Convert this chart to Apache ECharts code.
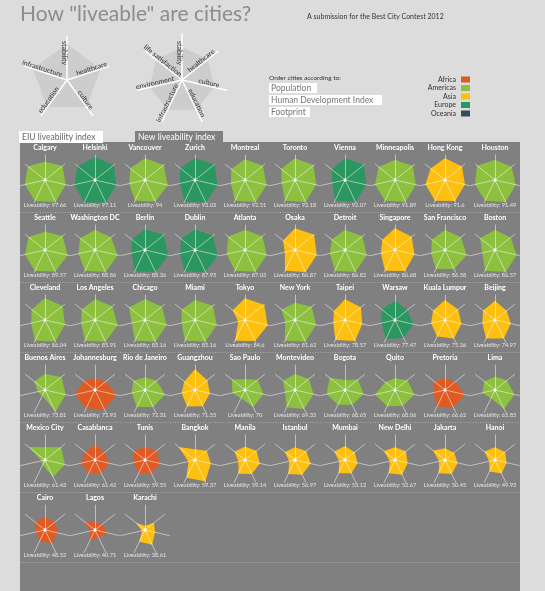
<!DOCTYPE html>
<html><head><meta charset="utf-8">
<script src="https://cdn.jsdelivr.net/npm/echarts@6/dist/echarts.min.js"></script>
<style>html,body{margin:0;padding:0;background:#dcdcdc}#c{width:545px;height:591px}</style>
</head><body><div id="c"></div>
<script>
// ---------- data ----------
const cities = ['Calgary','Helsinki','Vancouver','Zurich','Montreal','Toronto','Vienna','Minneapolis','Hong Kong','Houston',
  'Seattle','Washington DC','Berlin','Dublin','Atlanta','Osaka','Detroit','Singapore','San Francisco','Boston',
  'Cleveland','Los Angeles','Chicago','Miami','Tokyo','New York','Taipei','Warsaw','Kuala Lumpur','Beijing',
  'Buenos Aires','Johannesburg','Rio de Janeiro','Guangzhou','Sao Paulo','Montevideo','Bogota','Quito','Pretoria','Lima',
  'Mexico City','Casablanca','Tunis','Bangkok','Manila','Istanbul','Mumbai','New Delhi','Jakarta','Hanoi',
  'Cairo','Lagos','Karachi'];
const regions = ['Americas','Europe','Americas','Europe','Americas','Americas','Europe','Americas','Asia','Americas',
  'Americas','Americas','Europe','Europe','Americas','Asia','Americas','Asia','Americas','Americas',
  'Americas','Americas','Americas','Americas','Asia','Americas','Asia','Europe','Asia','Asia',
  'Americas','Africa','Americas','Asia','Americas','Americas','Americas','Americas','Africa','Americas',
  'Americas','Africa','Africa','Asia','Asia','Asia','Asia','Asia','Asia','Asia',
  'Africa','Africa','Asia'];
const scores = [97.66,97.11,94,93.03,92.51,92.18,92.07,91.89,91.6,91.49,
  89.57,88.86,88.36,87.95,87.03,86.87,86.82,86.68,86.58,86.57,
  86.04,85.91,85.16,85.16,84.6,81.62,78.57,77.47,75.36,74.97,
  73.81,72.93,72.31,71.55,70,69.35,68.65,68.06,66.62,65.85,
  61.43,61.42,59.55,59.37,59.14,56.97,53.12,52.67,50.45,49.93,
  48.52,40.71,38.61];
// axis values (0-100), one entry per city, same order as cities
const stability = [73,91,87,87,83,87,87,80,87,80, 73,80,83,83,80,87,80,87,80,80, 87,83,83,80,87,69,83,77,80,77,
  64,47,51,83,43,64,40,47,47,53, 51,60,51,43,53,51,56,51,47,51, 51,31,17];
const healthcare = [90,96,96,100,91,95,97,91,87,85, 90,82,96,91,89,98,89,85,81,80, 90,88,86,91,98,85,81,63,67,60,
  84,55,60,63,65,71,67,63,52,61, 82,50,60,60,59,57,50,56,47,52, 52,36,46];
const culture = [85,87,93,92,89,87,87,85,82,85, 93,93,96,93,89,89,89,80,89,89, 82,93,89,89,93,87,71,75,68,65,
  85,89,82,61,76,76,76,80,82,80, 82,57,61,65,61,65,52,52,52,48, 52,52,41];
const education = [98,100,96,100,98,98,98,98,93,98, 95,98,98,98,97,98,98,93,84,98, 95,97,96,95,93,95,93,79,82,82,
  97,85,75,72,75,84,65,71,77,84, 75,59,60,96,62,66,59,66,62,60, 59,33,66];
const infrastructure = [93,100,92,95,92,92,92,92,92,92, 93,92,95,95,92,92,92,92,84,92, 92,92,92,92,92,92,89,84,73,82,
  25,82,75,73,37,77,65,72,73,37, 22,59,59,79,61,62,59,59,59,51, 50,45,52];
const environment = [83,85,65,62,58,55,52,82,80,82, 82,68,55,61,75,42,62,58,57,52, 57,57,55,55,28,41,48,55,57,52,
  30,82,55,55,52,41,75,82,48,52, 15,57,47,27,27,24,24,21,24,24, 35,20,13];
const lifeSatisfaction = [88,89,75,76,70,70,67,84,74,92, 84,76,67,71,86,61,68,65,67,76, 68,68,81,68,63,68,57,68,61,61,
  55,57,60,55,67,60,79,50,55,55, 84,50,57,84,54,52,55,57,61,54, 52,52,47];

const newAxes = ['stability','healthcare','culture','education','infrastructure','environment','life satisfaction'];
const eiuAxes = ['stability','healthcare','culture','education','infrastructure'];
const eiuIcon = [82,80,76,76,82];
const newIcon = [72,72,72,72,72,72,72];
const regionNames = ['Africa','Americas','Asia','Europe','Oceania'];
const regionColors = ['#e05a24','#8dc03f','#fdbf10','#2a9660','#2f4f5e'];
const sortOptions = ['Population','Human Development Index','Footprint'];
const tabs = ['EIU liveability index','New liveability index'];

// ---------- build ----------
const colorOf = {}; regionNames.forEach((r,i)=>colorOf[r]=regionColors[i]);
const axisData = [stability, healthcare, culture, education, infrastructure, environment, lifeSatisfaction];
// ECharts lays indicators counterclockwise; reorder so the axes run clockwise
const ccw = n => Array.from({length:n}, (_,k) => (n - k) % n);
const FONT = 'Lato, "Open Sans", sans-serif';
const COLS = 10, CW = 50, CH = 70, X0 = 20, Y0 = 143, R = 25;

const radars = [], series = [], g = [];
g.push({type:'rect', z:-5, shape:{x:20, y:142, width:500, height:449}, style:{fill:'#808080'}});

cities.forEach((name, i) => {
  const r = Math.floor(i / COLS), c = i % COLS;
  const cx = X0 + CW * (c + 0.5), cy = Y0 + 37 + CH * r;
  radars.push({
    center:[cx, cy], radius:R, startAngle:90, z:3,
    indicator: ccw(7).map(k => ({name:newAxes[k], min:0, max:100})),
    axisName:{show:false}, splitLine:{show:false}, splitArea:{show:false},
    axisTick:{show:false}, axisLabel:{show:false},
    axisLine:{lineStyle:{color:'rgba(255,255,255,0.5)', width:1}}
  });
  const col = colorOf[regions[i]];
  series.push({
    type:'radar', radarIndex:i, name:regions[i], z:2, silent:true, symbol:'none',
    itemStyle:{color:col}, lineStyle:{width:0, opacity:0},
    areaStyle:{color:col, opacity:1},
    data:[{name:name, value: ccw(7).map(k => axisData[k][i])},
          {name:'centre', value:[0,0,0,0,0,0,0], symbol:'circle', symbolSize:2.4,
           itemStyle:{color:'#fff'}, areaStyle:{opacity:0}, lineStyle:{opacity:0}}]
  });
  g.push({type:'text', z:10, x:cx, y:cy - 32, style:{text:name, fill:'#fff', font:'bold 7px ' + FONT,
    align:'center', verticalAlign:'middle', textAlign:'center', textVerticalAlign:'middle'}});
  g.push({type:'text', z:10, x:cx, y:cy + 25, style:{text:'Liveability: ' + scores[i], fill:'#e4e4e4', font:'5.7px ' + FONT,
    align:'center', verticalAlign:'middle', textAlign:'center', textVerticalAlign:'middle'}});
});
const nRows = Math.ceil(cities.length / COLS);
for (let r = 0; r < nRows; r++) {
  const y = Y0 + 69.5 + CH * r;
  g.push({type:'line', z:-4, shape:{x1:20, y1:y, x2:520, y2:y}, style:{stroke:'#a9a9a9', lineWidth:1, lineDash:[1,1.5]}});
}
// Oceania: legend only (no city)
series.push({type:'radar', radarIndex:0, name:'Oceania', itemStyle:{color:colorOf['Oceania']}, data:[]});

// header icon radars
function iconRadar(cx, cy, rad, names, vals) {
  const idx = radars.length;
  radars.push({
    center:[cx, cy], radius:rad, startAngle:90, z:3,
    indicator: ccw(names.length).map(k => ({name:names[k], min:0, max:100})),
    axisName:{show:false}, splitLine:{show:false}, splitArea:{show:false},
    axisTick:{show:false}, axisLabel:{show:false},
    axisLine:{lineStyle:{color:'#ffffff', width:1.5}}
  });
  series.push({type:'radar', radarIndex:idx, z:2, silent:true, symbol:'none',
    lineStyle:{width:0, opacity:0}, itemStyle:{color:'#cdcdcd'}, areaStyle:{color:'#cdcdcd', opacity:1},
    data:[{value: ccw(names.length).map(k => vals[k])}]});
  const n = names.length;
  names.forEach((t, k) => {
    const phi = k * 2 * Math.PI / n;
    const dx = Math.sin(phi), dy = -Math.cos(phi);
    let th = Math.atan2(dy, dx);
    while (th > Math.PI/2 + 1e-6) th -= Math.PI;
    while (th <= -Math.PI/2 + 1e-6) th += Math.PI;
    const ux = Math.sin(th), uy = -Math.cos(th);
    const vertical = Math.abs(th - Math.PI/2) < 1e-3;
    const d = 27, off = vertical ? -3.2 : 3.2;
    g.push({type:'text', z:10, x: cx + d*dx + off*ux, y: cy + d*dy + off*uy, rotation: -th,
      style:{text:t, fill:'#333', font:'7px ' + FONT, align:'center', verticalAlign:'middle',
        textAlign:'center', textVerticalAlign:'middle'}});
  });
}
iconRadar(67, 80, 44, eiuAxes, eiuIcon);
iconRadar(182, 80, 46, newAxes, newIcon);

// title
g.push({type:'text', z:10, x:20, y:14, style:{text:'How "liveable" are cities?', fill:'#8c8c8c', font:'21px ' + FONT,
  align:'left', verticalAlign:'middle', textAlign:'left', textVerticalAlign:'middle'}});
g.push({type:'text', z:10, x:307, y:17, style:{text:'A submission for the Best City Contest 2012', fill:'#333', font:'7px ' + FONT,
  align:'left', verticalAlign:'middle', textAlign:'left', textVerticalAlign:'middle'}});
// ordering buttons
g.push({type:'text', z:10, x:269, y:78, style:{text:'Order cities according to:', fill:'#333', font:'6.5px ' + FONT,
  align:'left', verticalAlign:'middle', textAlign:'left', textVerticalAlign:'middle'}});
const btnW = [48, 113, 41];
sortOptions.forEach((t, k) => {
  const y = 83 + 12 * k;
  g.push({type:'rect', z:9, shape:{x:269, y:y, width:btnW[k], height:10}, style:{fill:'#fff'}});
  g.push({type:'text', z:10, x:271, y:y + 5, style:{text:t, fill:'#777', font:'8.5px ' + FONT,
    align:'left', verticalAlign:'middle', textAlign:'left', textVerticalAlign:'middle'}});
});
// tabs
const tabX = [19, 135], tabW = [84, 88], tabFill = ['#fff', '#808080'], tabText = ['#666', '#fff'];
tabs.forEach((t, k) => {
  g.push({type:'rect', z:9, shape:{x:tabX[k], y:131, width:tabW[k], height:12}, style:{fill:tabFill[k]}});
  g.push({type:'text', z:10, x:tabX[k] + 3, y:137.5, style:{text:t, fill:tabText[k], font:'8.5px ' + FONT,
    align:'left', verticalAlign:'middle', textAlign:'left', textVerticalAlign:'middle'}});
});

const chart = echarts.init(document.getElementById('c'));
chart.setOption({
  backgroundColor:'#dcdcdc',
  animation:false,
  legend:{data:regionNames, orient:'vertical', right:75, top:76, align:'right', icon:'rect',
    itemWidth:9, itemHeight:6, itemGap:1.5, selectedMode:false, padding:0,
    itemStyle:{borderWidth:0},
    textStyle:{fontSize:7, color:'#333', lineHeight:6, fontFamily:FONT}},
  radar: radars,
  series: series,
  graphic: g
});
</script>
</body></html>
